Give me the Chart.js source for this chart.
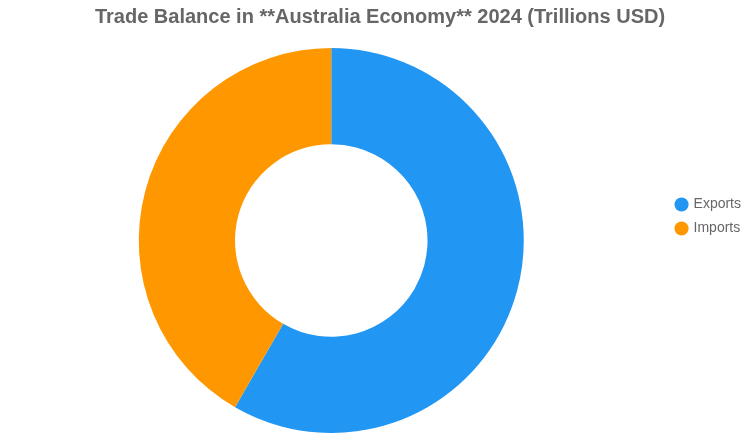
<!DOCTYPE html>
<html>
<head>
<meta charset="utf-8">
<script src="https://cdn.jsdelivr.net/npm/chart.js@4"></script>
<style>
    html, body { margin: 0; padding: 0; background: #fff; }
    #wrap { position: relative; width: 751px; height: 433px; }
</style>
</head>
<body>
<div id="wrap"><canvas id="chart_canvas"></canvas></div>
<script>
/* trade balance doughnut */

const categories = [ 'Exports', 'Imports' ];
const values = [ 0.42, 0.30 ];
const colours = [ '#2196F3', '#FF9800' ];
const title_text = 'Trade Balance in **Australia Economy** 2024 (Trillions USD)';

const data =
{
    labels: categories,
    datasets: [{
        data: values,
        backgroundColor: colours,
        borderWidth: 0,
    }],
};

// small layout nudges: title a bit right, doughnut a bit left
const layout_nudge =
{
    id: 'layout_nudge',
    afterLayout: function ( chart )
    {
        if ( chart.titleBlock ) { chart.titleBlock.left += 9; }
        chart.chartArea.left -= 2;
        chart.chartArea.right -= 2;
    }
};

const options =
{
    responsive: true,
    maintainAspectRatio: false,
    animation: false,
    cutout: '50%',
    plugins:
    {
        title:
        {
            display: true,
            text: title_text,
            color: '#666',
            font: { family: 'Liberation Sans, Arial, sans-serif', size: 20, weight: 'bold' },
            padding: { top: 5, bottom: 19 }
        },
        legend:
        {
            position: 'right',
            labels:
            {
                usePointStyle: true,
                pointStyle: 'circle',
                color: '#666',
                boxWidth: 10,
                boxHeight: 10,
                font: { family: 'Liberation Sans, Arial, sans-serif', size: 14 }
            }
        },
        tooltip: { enabled: false }
    }
};

const config = { type: 'doughnut', data: data, options: options, plugins: [ layout_nudge ] };
const chart = new Chart( document.getElementById('chart_canvas'), config );
</script>
</body>
</html>
